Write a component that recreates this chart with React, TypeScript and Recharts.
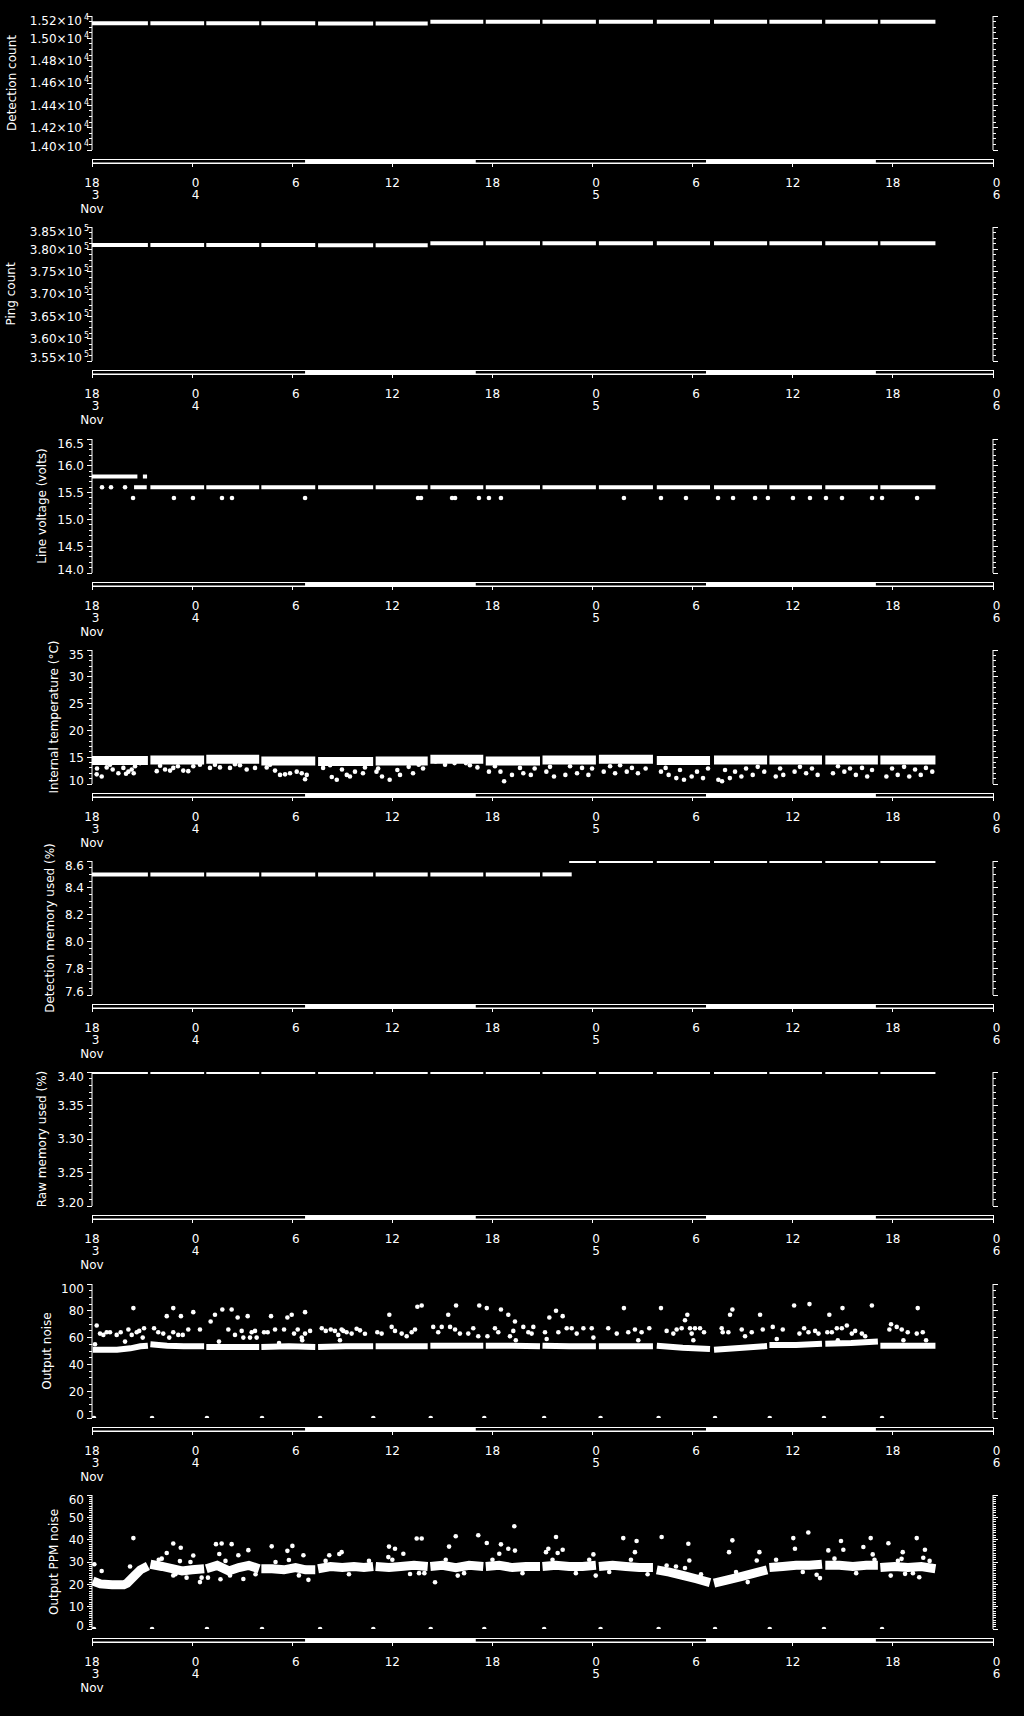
import React from 'react'
import { ComposedChart, Line, Scatter, XAxis, YAxis, ReferenceArea } from 'recharts'

// time axis: hours since 3 Nov 18:00
const X_TICKS = [0, 6, 12, 18, 24, 30, 36, 42, 48, 54]
const X_LABELS = [['18', '3', 'Nov'], ['0', '4'], ['6'], ['12'], ['18'], ['0', '5'], ['6'], ['12'], ['18'], ['0', '6']]
const DAYLIGHT = [[12.77, 23.0], [36.8, 46.98]]

// one block of records per data file
const FILES: number[][] = [
  [0.0, 3.35], [3.5, 6.72], [6.85, 10.02], [10.15, 13.38], [13.55, 16.85],
  [17.0, 20.12], [20.28, 23.45], [23.6, 26.85], [27.0, 30.2], [30.38, 33.62],
  [33.85, 37.04], [37.28, 40.46], [40.6, 43.75], [43.95, 47.1], [47.25, 50.55],
]
const ZERO_T = [0.12, 3.6, 6.89, 10.19, 13.67, 16.86, 20.3, 23.51, 27.1, 30.48, 33.96, 37.34, 40.62, 43.87, 47.35]

const DET_TICKS = [14000, 14200, 14400, 14600, 14800, 15000, 15200]
const DET_LABELS = ['1.40\u00d710', '1.42\u00d710', '1.44\u00d710', '1.46\u00d710', '1.48\u00d710', '1.50\u00d710', '1.52\u00d710']
const DET_COUNT = [15135, 15135, 15135, 15135, 15132, 15133, 15148, 15148, 15148, 15148, 15148, 15148, 15148, 15148, 15148]

const PING_TICKS = [355000, 360000, 365000, 370000, 375000, 380000, 385000]
const PING_LABELS = ['3.55\u00d710', '3.60\u00d710', '3.65\u00d710', '3.70\u00d710', '3.75\u00d710', '3.80\u00d710', '3.85\u00d710']
const PING_COUNT = [380950, 380950, 380950, 380950, 380900, 380900, 381350, 381350, 381350, 381350, 381350, 381350, 381350, 381350, 381350]

const VOLT_TICKS = [14, 14.5, 15, 15.5, 16, 16.5]
const VOLT_LABELS = ['14.0', '14.5', '15.0', '15.5', '16.0', '16.5']
const VOLT_SEGS = [
  [0, 2.72, 15.8], [3.05, 3.3, 15.8], [2.52, 3.28, 15.6],
  [3.5, 6.72, 15.6], [6.85, 10.02, 15.6], [10.15, 13.38, 15.6], [13.55, 16.85, 15.6],
  [17.0, 20.12, 15.6], [20.28, 23.45, 15.6], [23.6, 26.85, 15.6], [27.0, 30.2, 15.6],
  [30.38, 33.62, 15.6], [33.85, 37.04, 15.6], [37.28, 40.46, 15.6], [40.6, 43.75, 15.6],
  [43.95, 47.1, 15.6], [47.25, 50.55, 15.6],
]
const VOLT_DOTS = [
  [0.6, 15.6], [1.14, 15.6], [1.98, 15.6], [2.46, 15.4], [4.91, 15.4], [6.05, 15.4], [7.79, 15.4],
  [8.39, 15.4], [12.77, 15.4], [19.54, 15.4], [19.72, 15.4], [21.58, 15.4], [21.76, 15.4], [23.19, 15.4],
  [23.79, 15.4], [24.51, 15.4], [31.88, 15.4], [34.1, 15.4], [35.6, 15.4], [37.52, 15.4], [38.42, 15.4],
  [39.74, 15.4], [40.51, 15.4], [42.01, 15.4], [43.03, 15.4], [43.99, 15.4], [44.95, 15.4], [46.75, 15.4],
  [47.35, 15.4], [49.45, 15.4],
]

const TEMP_TICKS = [10, 15, 20, 25, 30, 35]
const TEMP_LABELS = ['10', '15', '20', '25', '30', '35']
const TEMP_BAND = [14.4, 14.5, 14.6, 14.3, 14.2, 14.3, 14.6, 14.3, 14.5, 14.6, 14.4, 14.5, 14.5, 14.5, 14.5]
const TEMP_DOTS = [
  [0.28, 11.8], [0.58, 11.4], [0.3, 12.9], [0.88, 13.1], [1.08, 13.6], [1.24, 12.7], [1.58, 12.0], [1.88, 13.0],
  [2.04, 11.9], [2.18, 12.3], [2.38, 12.7], [2.5, 12.0], [2.58, 13.3], [2.88, 13.9],
  [3.88, 12.4], [4.08, 13.4], [4.38, 12.7], [4.68, 12.5], [4.87, 13.0], [5.15, 13.3], [5.47, 12.5], [5.77, 12.4],
  [6.07, 13.3], [6.47, 13.6],
  [7.07, 13.0], [7.37, 13.6], [7.67, 13.1], [8.27, 13.0], [8.57, 13.7], [8.87, 13.5], [9.27, 12.7], [9.77, 13.0],
  [10.47, 13.1], [10.67, 13.6], [10.97, 12.5], [11.27, 11.7], [11.57, 11.8], [11.87, 12.0], [12.27, 12.3],
  [12.57, 12.0], [12.77, 10.9], [12.87, 11.7],
  [13.85, 13.0], [14.27, 13.5], [14.37, 11.3], [14.67, 10.8], [14.98, 12.7], [15.27, 11.7], [15.46, 11.4],
  [15.76, 12.3], [16.24, 12.0], [16.36, 13.1],
  [17.05, 12.3], [17.15, 12.9], [17.38, 11.4], [17.84, 10.8], [18.3, 12.6], [18.46, 11.7], [18.98, 13.2],
  [19.24, 12.0], [19.58, 13.6], [19.84, 12.9],
  [20.59, 14.2], [21.16, 13.6], [21.73, 13.9], [22.41, 13.9], [22.65, 13.5], [23.1, 13.1],
  [23.79, 12.3], [24.15, 13.3], [24.48, 12.3], [24.7, 10.5], [25.17, 11.7], [25.65, 13.0], [25.85, 12.0],
  [26.3, 11.7], [26.53, 12.9],
  [27.23, 12.3], [27.45, 13.2], [27.69, 11.4], [28.37, 11.7], [28.65, 13.3], [29.07, 12.0], [29.37, 13.0],
  [29.75, 11.7], [29.97, 12.9],
  [30.67, 12.3], [31.05, 13.3], [31.35, 12.0], [31.65, 13.5], [32.05, 12.3], [32.36, 13.0], [32.72, 12.0], [33.18, 12.9],
  [34.1, 12.3], [34.38, 13.0], [34.56, 11.7], [35.02, 11.1], [35.24, 12.6], [35.48, 10.8], [35.94, 11.4],
  [36.26, 12.3], [36.62, 11.1], [36.92, 12.9],
  [37.54, 10.8], [37.76, 10.5], [37.94, 12.6], [38.23, 11.1], [38.54, 12.3], [38.92, 11.4], [39.2, 12.9],
  [39.6, 11.7], [39.9, 13.2], [40.29, 12.3],
  [40.98, 11.4], [41.24, 12.9], [41.43, 11.7], [42.11, 12.3], [42.43, 13.2], [42.8, 12.0], [43.15, 12.9], [43.49, 11.7],
  [44.41, 12.0], [44.71, 13.3], [45.09, 12.3], [45.43, 12.9], [45.78, 11.7], [46.15, 13.0], [46.46, 11.4], [46.75, 12.6],
  [47.61, 11.4], [47.95, 12.9], [48.29, 11.7], [48.67, 13.2], [48.98, 11.4], [49.33, 12.7], [49.67, 11.7],
  [49.98, 13.0], [50.36, 12.3],
]

const DMEM_TICKS = [7.6, 7.8, 8.0, 8.2, 8.4, 8.6]
const DMEM_LABELS = ['7.6', '7.8', '8.0', '8.2', '8.4', '8.6']
const DMEM_SEGS = [
  [0, 3.35, 8.5], [3.5, 6.72, 8.5], [6.85, 10.02, 8.5], [10.15, 13.38, 8.5], [13.55, 16.85, 8.5],
  [17.0, 20.12, 8.5], [20.28, 23.45, 8.5], [23.6, 26.85, 8.5], [27.0, 28.75, 8.5], [28.6, 30.2, 8.6],
  [30.38, 33.62, 8.6], [33.85, 37.04, 8.6], [37.28, 40.46, 8.6], [40.6, 43.75, 8.6], [43.95, 47.1, 8.6],
  [47.25, 50.55, 8.6],
]

const RMEM_TICKS = [3.2, 3.25, 3.3, 3.35, 3.4]
const RMEM_LABELS = ['3.20', '3.25', '3.30', '3.35', '3.40']
const RAW_MEM = [3.4, 3.4, 3.4, 3.4, 3.4, 3.4, 3.4, 3.4, 3.4, 3.4, 3.4, 3.4, 3.4, 3.4, 3.4]

const NOISE_TICKS = [0, 20, 40, 60, 80, 100]
const NOISE_LABELS = ['0', '20', '40', '60', '80', '100']
const NOISE_BASE = [
  [[0.05, 51], [1.5, 51], [2.3, 52], [2.9, 53.5], [3.35, 54]],
  [[3.5, 55], [4.5, 54], [5.5, 53.5], [6.72, 53.5]],
  [[6.85, 53], [8.5, 53], [10.02, 53]],
  [[10.15, 53], [11.8, 53.5], [13.38, 53]],
  [[13.55, 53], [15.2, 53.5], [16.85, 53.5]],
  [[17.0, 53.5], [18.5, 53.5], [20.12, 53.5]],
  [[20.28, 54], [21.9, 54], [23.45, 54]],
  [[23.6, 54], [25.2, 54], [26.85, 53.5]],
  [[27.0, 54], [28.6, 53.5], [30.2, 53.5]],
  [[30.38, 53.5], [32.0, 53.5], [33.62, 53.5]],
  [[33.85, 54], [35.4, 52.5], [37.04, 51.5]],
  [[37.28, 51], [38.8, 52.2], [40.46, 53.7]],
  [[40.6, 54.5], [42.2, 54.5], [43.75, 55.5]],
  [[43.95, 55.5], [45.5, 56], [47.1, 57]],
  [[47.25, 54], [48.9, 54], [50.55, 54]],
]
const NOISE_DOTS = [
  [0.18, 55], [0.28, 69], [0.48, 63], [0.68, 62], [0.88, 64], [1.08, 64], [1.48, 62], [1.72, 64], [1.98, 57],
  [2.18, 66], [2.38, 62], [2.48, 82], [2.68, 64], [2.83, 65], [3.04, 60], [3.12, 67],
  [3.72, 67], [3.97, 64], [4.27, 63], [4.48, 76], [4.63, 60], [4.87, 82], [4.87, 64], [5.17, 62], [5.33, 76],
  [5.44, 62], [5.77, 66], [6.07, 79], [6.47, 66],
  [7.11, 72], [7.37, 77], [7.61, 57], [7.81, 81], [8.17, 66], [8.37, 81], [8.57, 62], [8.73, 75], [8.97, 65],
  [9.07, 60], [9.33, 76], [9.47, 60], [9.57, 64], [9.77, 65], [9.87, 60],
  [10.31, 64], [10.53, 64], [10.73, 76], [10.97, 66], [11.21, 56], [11.51, 66], [11.71, 75], [11.97, 77],
  [12.11, 63], [12.33, 66], [12.57, 60], [12.77, 79], [12.77, 63], [13.07, 65], [12.6, 58],
  [13.77, 67], [14.01, 65], [14.31, 66], [14.56, 65], [14.76, 62], [14.86, 58], [14.96, 66], [15.06, 65],
  [15.26, 64], [15.56, 63], [15.86, 66.6], [16.06, 65.4], [16.36, 62.9],
  [17.1, 64], [17.36, 63], [17.82, 77], [17.96, 68], [18.16, 65], [18.56, 63], [18.86, 61], [19.16, 64],
  [19.36, 66], [19.5, 83], [19.76, 84],
  [20.45, 68], [20.75, 64], [20.96, 68], [21.35, 77], [21.46, 68], [21.76, 66], [21.82, 84], [22.05, 63],
  [22.55, 63], [22.85, 67], [23.15, 61], [23.21, 84],
  [23.66, 82], [23.7, 61], [24.15, 67], [24.35, 64], [24.51, 81], [24.95, 77], [25.05, 61], [25.25, 65],
  [25.35, 72], [25.4, 58], [25.85, 68], [26.15, 64], [26.35, 63], [26.45, 68],
  [27.15, 64], [27.25, 59], [27.41, 75], [27.81, 80], [27.95, 64], [28.21, 76], [28.45, 67], [28.75, 67],
  [29.05, 63], [29.45, 67], [29.95, 67], [30.05, 60],
  [30.94, 67], [31.45, 63], [31.88, 82], [32.14, 64], [32.54, 66], [32.74, 58], [32.94, 64], [33.4, 67],
  [34.1, 82], [34.44, 65], [34.84, 63], [35.04, 66], [35.34, 67], [35.54, 73], [35.68, 77], [35.84, 67],
  [35.94, 63], [36.04, 58], [36.14, 67], [36.44, 67], [36.68, 64],
  [37.74, 67], [37.8, 64], [38.14, 64], [38.24, 77], [38.38, 81], [38.94, 66], [39.14, 61], [39.54, 64],
  [40.04, 77], [40.2, 66],
  [40.8, 68], [41.04, 59], [41.4, 66], [42.08, 84], [42.4, 63], [42.68, 67], [42.94, 64], [43.0, 85],
  [43.34, 65], [43.54, 63],
  [44.07, 64], [44.19, 77], [44.34, 64], [44.64, 67], [44.7, 58], [44.98, 82], [44.94, 67], [45.24, 69],
  [45.54, 63], [45.74, 65], [46.14, 63], [46.34, 61], [46.74, 84],
  [47.79, 66], [47.89, 70], [48.23, 68], [48.53, 66], [48.63, 58], [48.89, 64], [49.43, 63], [49.49, 82],
  [49.79, 64], [49.99, 58],
]

const PPM_TICKS = [0, 10, 20, 30, 40, 50, 60]
const PPM_LABELS = ['0', '10', '20', '30', '40', '50', '60']
const PPM_BAND = [
  [[0.05, 21.5], [0.5, 20.2], [1.2, 19.8], [1.9, 19.8], [2.1, 20.5], [2.5, 23.5], [2.9, 26.5], [3.35, 28.2]],
  [[3.5, 29], [4.2, 28], [4.8, 27], [5.4, 26], [6.0, 26.5], [6.72, 27]],
  [[6.85, 27], [7.5, 28.5], [8.2, 26], [8.8, 27.5], [9.4, 28.5], [10.02, 27]],
  [[10.15, 27], [10.8, 27], [11.5, 26.5], [12.2, 27.5], [12.8, 26.5], [13.38, 26.5]],
  [[13.55, 27], [14.3, 28], [15.0, 27.5], [15.7, 28], [16.3, 27.5], [16.85, 28]],
  [[17.0, 28], [17.8, 27.5], [18.5, 28], [19.3, 28.5], [20.12, 28]],
  [[20.28, 28], [21.0, 28.5], [21.8, 27.5], [22.6, 28.5], [23.45, 28]],
  [[23.6, 28], [24.4, 28.5], [25.2, 27.5], [26.0, 28], [26.85, 28]],
  [[27.0, 28], [27.8, 28.5], [28.6, 28], [29.4, 28], [30.2, 28.5]],
  [[30.38, 28], [31.2, 28.5], [32.0, 28], [32.8, 27.5], [33.62, 27.5]],
  [[33.85, 26.5], [34.6, 25.5], [35.4, 24], [36.2, 22.5], [37.04, 20.8]],
  [[37.28, 20.5], [38.1, 22], [38.9, 23.5], [39.7, 25], [40.46, 26.5]],
  [[40.6, 27.5], [41.4, 28], [42.2, 28.5], [43.0, 28.5], [43.75, 29]],
  [[43.95, 28.5], [44.8, 28.5], [45.6, 28], [46.4, 28.5], [47.1, 28.5]],
  [[47.25, 27.5], [48.1, 28], [48.9, 27.5], [49.7, 28], [50.55, 27]],
]
const PPM_DOTS = [
  [0.14, 29], [0.58, 26], [2.28, 28], [2.48, 40.7], [2.78, 26],
  [4.18, 31.5], [4.48, 34], [4.87, 38.3], [5.32, 36.4], [5.27, 30.4], [6.07, 32.9], [5.67, 23], [4.87, 24],
  [6.47, 21], [6.57, 23], [6.95, 23], [7.43, 38], [7.77, 38.3], [7.63, 33.6], [7.7, 22.3], [8.37, 38],
  [8.77, 33], [9.07, 22.4], [8.27, 24], [9.37, 35.3],
  [10.77, 37], [11.71, 35], [12.01, 37.2], [11.8, 30.9], [12.67, 33], [12.97, 22], [14.22, 33], [14.82, 33.6],
  [14.96, 34.4], [17.76, 32.2], [17.8, 36.9], [18.16, 35.9], [18.66, 33.7], [19.06, 24.6], [19.46, 40.5],
  [19.76, 40.5], [19.92, 25], [20.56, 20.9], [21.4, 36.9], [21.8, 41.5], [21.92, 23.9], [23.15, 42],
  [23.66, 38.5], [24.41, 33.7], [24.51, 37.9], [24.95, 35.9], [25.31, 46], [25.35, 35.1],
  [27.21, 34.4], [27.35, 35.9], [27.81, 41.2], [27.91, 34], [28.21, 35.5], [30.05, 33.4], [30.19, 23.9],
  [31.84, 40.7], [32.64, 39.4], [32.54, 34.4], [34.14, 41.2], [34.44, 28.4], [35.54, 27.3], [35.74, 38.2],
  [35.8, 30.7], [38.18, 34.4], [38.38, 39.7], [39.84, 30.7], [40.0, 34.4], [42.03, 40.7], [42.13, 35.9],
  [42.93, 43.2], [43.43, 24.3], [43.63, 22.8], [44.13, 35.2], [44.89, 39.4], [45.03, 35.5], [46.23, 36.7],
  [46.67, 40.7], [46.79, 33.4], [47.73, 38.4], [47.87, 23.9], [48.52, 31.4], [48.59, 34.4], [48.73, 24.7],
  [49.43, 40.7], [49.58, 23.2], [49.82, 31.9], [49.92, 35.5],
  // scatter just around the main band
  [4.0, 31], [5.0, 24.5], [5.9, 30], [8.0, 30.5], [9.8, 24.5], [11.0, 30], [12.4, 24], [14.0, 30.5],
  [15.4, 24.5], [16.6, 30.5], [18.0, 31], [19.6, 25], [21.2, 31], [22.3, 25], [24.0, 31], [25.8, 25],
  [27.6, 31], [29.0, 25], [29.8, 31], [31.0, 25.5], [32.3, 31], [33.3, 24.5], [35.0, 28], [36.5, 24.5],
  [38.6, 25.5], [39.3, 21], [41.0, 31], [42.6, 25.5], [44.5, 31.5], [45.8, 25], [46.9, 31], [48.3, 30.5],
  [49.2, 25], [50.2, 30.5],
]

const FONT = '"DejaVu Sans", sans-serif'
const TOPS = [16, 227, 439, 650, 861, 1072, 1284, 1495]
const PAD = 40
const PAD_B = 36

type Pt = { t: number; v: number }
const pts = (a: number[][]): Pt[] => a.map(([t, v]) => ({ t, v }))
const flat = (vals: number[]) => FILES.map(([a, b], i) => pts([[a, vals[i]], [b, vals[i]]]))
const segs = (s: number[][]) => s.map(([a, b, v]) => pts([[a, v], [b, v]]))
const zeros = ZERO_T.map((t) => [t, 0])

interface PanelCfg {
  title: string
  titleX: number
  domain: [number, number]
  majors: number[]
  labels: string[]
  exp?: string
  minor: number
  lines: Pt[][]
  lineW: number
  dots: Pt[]
}

const PANELS: PanelCfg[] = [
  { title: 'Detection count', titleX: 12, domain: [14000, 15200], majors: DET_TICKS, labels: DET_LABELS, exp: '4', minor: 50, lines: flat(DET_COUNT), lineW: 4, dots: [] },
  { title: 'Ping count', titleX: 11, domain: [355000, 385000], majors: PING_TICKS, labels: PING_LABELS, exp: '5', minor: 1250, lines: flat(PING_COUNT), lineW: 4, dots: [] },
  { title: 'Line voltage (volts)', titleX: 42, domain: [14, 16.5], majors: VOLT_TICKS, labels: VOLT_LABELS, minor: 0.1, lines: segs(VOLT_SEGS), lineW: 4, dots: pts(VOLT_DOTS) },
  { title: 'Internal temperature (\u00b0C)', titleX: 54, domain: [10, 35], majors: TEMP_TICKS, labels: TEMP_LABELS, minor: 1, lines: flat(TEMP_BAND), lineW: 9, dots: pts(TEMP_DOTS) },
  { title: 'Detection memory used (%)', titleX: 50, domain: [7.6, 8.6], majors: DMEM_TICKS, labels: DMEM_LABELS, minor: 0.05, lines: segs(DMEM_SEGS), lineW: 4, dots: [] },
  { title: 'Raw memory used (%)', titleX: 42, domain: [3.2, 3.4], majors: RMEM_TICKS, labels: RMEM_LABELS, minor: 0.01, lines: flat(RAW_MEM), lineW: 4, dots: [] },
  { title: 'Output noise', titleX: 47, domain: [0, 100], majors: NOISE_TICKS, labels: NOISE_LABELS, minor: 5, lines: NOISE_BASE.map(pts), lineW: 6, dots: pts([...NOISE_DOTS, ...zeros]) },
  { title: 'Output PPM noise', titleX: 54, domain: [0, 60], majors: PPM_TICKS, labels: PPM_LABELS, minor: 1, lines: PPM_BAND.map(pts), lineW: 9, dots: pts([...PPM_DOTS, ...zeros]) },
]

// majors plus evenly spaced minor ticks between them
function allTicks(majors: number[], minor: number) {
  const out: number[] = []
  for (let i = 0; i < majors.length - 1; i++) {
    const n = Math.round((majors[i + 1] - majors[i]) / minor)
    for (let k = 0; k < n; k++) out.push(+(majors[i] + k * minor).toFixed(6))
  }
  out.push(majors[majors.length - 1])
  return out
}

const majorIndex = (cfg: PanelCfg, v: number) => {
  const eps = (cfg.domain[1] - cfg.domain[0]) * 1e-6
  return cfg.majors.findIndex((m) => Math.abs(m - v) < eps)
}

const leftTick = (cfg: PanelCfg) => (p: any) => {
  const idx = majorIndex(cfg, p.payload.value)
  const len = idx >= 0 ? 5 : 3
  let dy = 4.3
  if (idx === cfg.majors.length - 1) dy += 5
  if (idx === 0) dy -= 3.5
  return (
    <g>
      <line x1={p.x - len} x2={p.x} y1={p.y} y2={p.y} stroke="#fff" shapeRendering="crispEdges" />
      {idx >= 0 && (
        <text x={cfg.exp ? p.x - 3 : p.x - 8} y={p.y + dy} textAnchor="end" fill="#fff" fontSize={12} fontFamily={FONT}>
          {cfg.labels[idx]}
          {cfg.exp && <tspan dx={2} dy={-5} fontSize={8}>{cfg.exp}</tspan>}
        </text>
      )}
    </g>
  )
}

const rightTick = (cfg: PanelCfg) => (p: any) => {
  const len = majorIndex(cfg, p.payload.value) >= 0 ? 5 : 3
  return <line x1={p.x} x2={p.x + len} y1={p.y} y2={p.y} stroke="#fff" shapeRendering="crispEdges" />
}

const xTick = (p: any) => {
  const i = X_TICKS.indexOf(p.payload.value)
  const rows = X_LABELS[i] || []
  const offs = [24, 36, 49.5]
  return (
    <g>
      <line x1={p.x} x2={p.x} y1={p.y} y2={p.y + 4} stroke="#fff" shapeRendering="crispEdges" />
      {rows.map((s, k) => (
        <text key={k} x={p.x + (s.length === 1 ? 3.5 : 0)} y={p.y + offs[k]} textAnchor="middle" fill="#fff" fontSize={12} fontFamily={FONT}>
          {s}
        </text>
      ))}
    </g>
  )
}

function YTitle(props: any) {
  const { txt, px, viewBox } = props
  const cy = viewBox && viewBox.height ? viewBox.y + viewBox.height / 2 : PAD + 67
  return (
    <text x={px} y={cy} dy="0.36em" transform={`rotate(-90, ${px}, ${cy})`} textAnchor="middle" fill="#fff" fontSize={12} fontFamily={FONT}>
      {txt}
    </text>
  )
}

const dotShape = (p: any) => <circle cx={p.cx} cy={p.cy} r={2.3} fill="#fff" />

function Panel({ cfg, top }: { cfg: PanelCfg; top: number }) {
  const ticks = allTicks(cfg.majors, cfg.minor)
  return (
    <div style={{ position: 'absolute', left: 0, top: top - PAD, width: 1024, height: 250 }}>
      <div style={{ position: 'absolute', left: 0, top: PAD + 134 }}>
        <ComposedChart width={1024} height={66} margin={{ top: 9, right: 31, bottom: 0, left: 92 }}>
          <XAxis
            dataKey="t"
            type="number"
            domain={[0, 54]}
            ticks={X_TICKS}
            interval={0}
            height={53}
            axisLine={{ stroke: '#fff' }}
            tickLine={false}
            tickSize={0}
            tickMargin={0}
            tick={xTick}
          />
          <YAxis dataKey="v" type="number" domain={[0, 1]} hide />
          <ReferenceArea x1={0} x2={54} y1={0} y2={1} fill="none" stroke="#fff" strokeWidth={1} fillOpacity={0} shapeRendering="crispEdges" />
          {DAYLIGHT.map(([a, b], i) => (
            <Line
              key={i}
              data={pts([[a, 0.5], [b, 0.5]])}
              dataKey="v"
              type="linear"
              stroke="#fff"
              strokeWidth={4}
              dot={false}
              activeDot={false}
              isAnimationActive={false}
            />
          ))}
        </ComposedChart>
      </div>
      <div style={{ position: 'absolute', left: 0, top: 0 }}>
        <ComposedChart width={1024} height={PAD + 134 + PAD_B} margin={{ top: PAD, right: 0, bottom: PAD_B, left: 0 }}>
          <XAxis dataKey="t" type="number" domain={[0, 54]} hide allowDataOverflow />
          <YAxis
            yAxisId="l"
            dataKey="v"
            type="number"
            domain={cfg.domain}
            ticks={ticks}
            interval={0}
            width={92}
            allowDataOverflow
            axisLine={{ stroke: '#fff' }}
            tickLine={false}
            tickSize={0}
            tickMargin={0}
            tick={leftTick(cfg)}
            label={<YTitle txt={cfg.title} px={cfg.titleX} />}
          />
          <YAxis
            yAxisId="r"
            orientation="right"
            type="number"
            domain={cfg.domain}
            ticks={ticks}
            interval={0}
            width={31}
            allowDataOverflow
            axisLine={{ stroke: '#fff' }}
            tickLine={false}
            tickSize={0}
            tickMargin={0}
            tick={rightTick(cfg)}
          />
          {cfg.lines.map((d, i) => (
            <Line
              key={i}
              yAxisId="l"
              data={d}
              dataKey="v"
              type="linear"
              stroke="#fff"
              strokeWidth={cfg.lineW}
              dot={false}
              activeDot={false}
              isAnimationActive={false}
            />
          ))}
          {cfg.dots.length > 0 && (
            <Scatter yAxisId="l" data={cfg.dots} dataKey="v" fill="#fff" shape={dotShape} isAnimationActive={false} />
          )}
        </ComposedChart>
      </div>
    </div>
  )
}

export default function App() {
  return (
    <div style={{ position: 'relative', width: 1024, height: 1716, background: '#000', overflow: 'hidden' }}>
      <style>{'body{margin:0;background:#000}'}</style>
      {PANELS.map((cfg, i) => (
        <Panel key={i} cfg={cfg} top={TOPS[i]} />
      ))}
    </div>
  )
}
